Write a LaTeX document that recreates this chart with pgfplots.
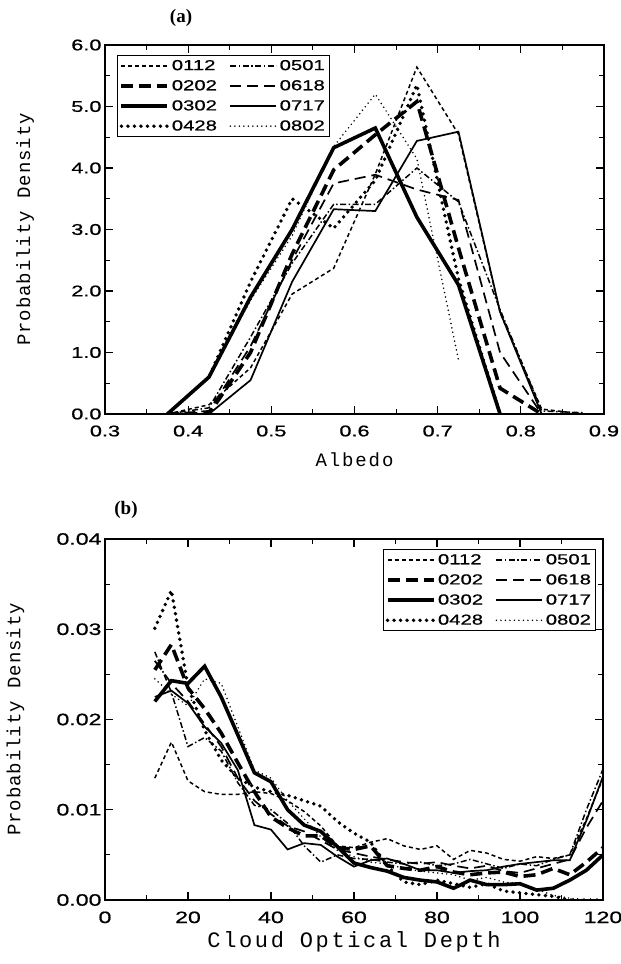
\documentclass[border=0pt]{standalone}
\usepackage{fontspec}
\setmainfont{Liberation Serif}
\newfontfamily\tickfont[FakeStretch=1.4,FakeBold=0.8]{Liberation Sans}
\newfontfamily\labfont{Liberation Mono}
\usepackage{pgfplots}
\usepackage{pgfplotstable}
\pgfplotsset{compat=1.18}

\pgfplotstableread{
x  a b c d e f g h
12  0.0135 0.0255 0.0220 0.0301 0.0275 0.0265 0.0225 0.0245
16  0.0175 0.0283 0.0243 0.0343 0.0230 0.0240 0.0232 0.0228
20  0.0132 0.0235 0.0240 0.0236 0.0170 0.0220 0.0218 0.0215
24  0.0120 0.0212 0.0259 0.0188 0.0180 0.0195 0.0192 0.0245
28  0.0117 0.0185 0.0225 0.0155 0.0165 0.0170 0.0174 0.0240
32  0.0117 0.0152 0.0183 0.0135 0.0130 0.0135 0.0144 0.0192
36  0.0120 0.0120 0.0141 0.0125 0.0105 0.0110 0.0083 0.0144
40  0.0118 0.0092 0.0131 0.0120 0.0100 0.0095 0.0078 0.0135
44  0.0110 0.0080 0.0100 0.0116 0.0085 0.0082 0.0056 0.0110
48  0.0098 0.0071 0.0083 0.0110 0.0060 0.0076 0.0063 0.0090
52  0.0082 0.0071 0.0076 0.0104 0.0042 0.0066 0.0061 0.0070
56  0.0060 0.0058 0.0059 0.0087 0.0050 0.0056 0.0048 0.0055
60  0.0058 0.0056 0.0041 0.0074 0.0046 0.0052 0.0037 0.0048
64  0.0064 0.0060 0.0036 0.0064 0.0045 0.0048 0.0044 0.0042
68  0.0068 0.0038 0.0032 0.0038 0.0042 0.0045 0.0046 0.0040
72  0.0060 0.0035 0.0025 0.0020 0.0040 0.0042 0.0040 0.0035
76  0.0056 0.0033 0.0022 0.0017 0.0042 0.0040 0.0033 0.0032
80  0.0060 0.0037 0.0020 0.0022 0.0038 0.0042 0.0033 0.0030
84  0.0045 0.0031 0.0013 0.0018 0.0040 0.0038 0.0030 0.0028
88  0.0055 0.0028 0.0022 0.0014 0.0045 0.0035 0.0032 0.0022
92  0.0052 0.0030 0.0017 0.0018 0.0040 0.0038 0.0033 0.0025
96  0.0045 0.0031 0.0017 0.0010 0.0035 0.0032 0.0037 0.0020
100 0.0043 0.0026 0.0018 0.0008 0.0040 0.0030 0.0040 0.0018
104 0.0048 0.0028 0.0011 0.0006 0.0038 0.0035 0.0042 0.0012
108 0.0046 0.0035 0.0013 0.0004 0.0045 0.0040 0.0044 0.0005
112 0.0050 0.0028 0.0022 0.0000 0.0050 0.0045 0.0044 0.0002
116 0.0090 0.0042 0.0033 0.0000 0.0100 0.0080 0.0088 0.0000
120 0.0135 0.0058 0.0050 0.0000 0.0145 0.0110 0.0137 0.0000
}\tabB

\pgfplotsset{
  paperaxis/.style={
    scale only axis,
    axis line style={line width=1.2bp},
    tick align=inside,
    major tick length=8bp, minor tick length=5bp,
    every tick/.style={black, line width=1.1bp},
    /pgf/number format/assume math mode=true,
    xticklabel style={yshift=-8bp},
    legend cell align=left,
    legend columns=4,
    transpose legend,
    legend image code/.code={\draw[##1] (0bp,0bp) -- (46bp,0bp);},
    legend style={draw=black, line width=1.1bp, font=\tickfont\fontsize{14.5bp}{14.5bp}\selectfont,
      inner sep=2bp, row sep=3.5bp, nodes={inner sep=2.5bp}},
    /tikz/every even column/.append style={column sep=10bp},
  },
  s0112/.style={black, line width=1.5bp, dash pattern=on 4bp off 3bp},
  s0202/.style={black, line width=3.6bp, dash pattern=on 12bp off 6bp},
  s0302/.style={black, line width=3.6bp},
  s0428/.style={black, line width=3.8bp, line cap=round, dash pattern=on 0bp off 6.5bp},
  s0501/.style={black, line width=1.5bp, dash pattern=on 6bp off 2.5bp on 1.5bp off 2.5bp},
  s0618/.style={black, line width=1.7bp, dash pattern=on 11bp off 6bp},
  s0717/.style={black, line width=1.7bp},
  s0802/.style={black, line width=1.7bp, line cap=round, dash pattern=on 0bp off 4.5bp},
}

\begin{document}
\begin{tikzpicture}
\useasboundingbox (0,0) rectangle (621bp,964bp);
\node[font=\bfseries\fontsize{19bp}{19bp}\selectfont] at (181bp,946bp) {(a)};
\node[font=\bfseries\fontsize{19bp}{19bp}\selectfont] at (126bp,454bp) {(b)};

\begin{axis}[paperaxis, at={(105bp,550bp)}, anchor=south west,
  width=499bp, height=369bp,
  xmin=0.3, xmax=0.9, ymin=0, ymax=6,
  xtick={0.3,0.4,...,0.9}, ytick={0,1,...,6},
  minor x tick num=1, minor y tick num=1,
  tick label style={font=\tickfont\fontsize{15.5bp}{15.5bp}\selectfont},
  xticklabel style={/pgf/number format/.cd, fixed, fixed zerofill, precision=1},
  yticklabel style={/pgf/number format/.cd, fixed, fixed zerofill, precision=1},
  xlabel={Albedo}, ylabel={Probability Density},
  xlabel style={font=\labfont\addfontfeature{LetterSpace=10}\fontsize{19bp}{19bp}\selectfont,
    at={(axis description cs:0.5,-0.125)}, anchor=center},
  ylabel style={font=\labfont\addfontfeature{LetterSpace=5}\fontsize{19bp}{19bp}\selectfont,
    at={(axis description cs:-0.16,0.5)}, anchor=center},
  legend style={at={(0.024,0.973)}, anchor=north west},
]
\addplot[s0112] coordinates {(0.375,0)(0.425,0.15)(0.475,0.75)(0.525,1.95)(0.575,2.37)(0.625,3.9)(0.675,5.64)(0.725,4.55)(0.775,1.65)(0.825,0.08)(0.875,0)};
\addlegendentry{0112}
\addplot[s0202] coordinates {(0.375,0)(0.425,0)(0.475,1.0)(0.525,2.6)(0.575,3.97)(0.625,4.54)(0.675,5.08)(0.725,2.7)(0.775,0.42)(0.825,0)};
\addlegendentry{0202}
\addplot[s0302] coordinates {(0.375,0)(0.425,0.6)(0.475,1.9)(0.525,3.0)(0.575,4.33)(0.625,4.65)(0.675,3.2)(0.725,2.1)(0.775,0)};
\addlegendentry{0302}
\addplot[s0428] coordinates {(0.375,0)(0.425,0.6)(0.475,2.15)(0.525,3.5)(0.575,3.02)(0.625,3.8)(0.675,5.35)(0.725,2.2)(0.775,0)};
\addlegendentry{0428}
\addplot[s0501] coordinates {(0.375,0)(0.425,0.1)(0.475,1.25)(0.525,2.45)(0.575,3.41)(0.625,3.41)(0.675,4.0)(0.725,3.45)(0.775,1.7)(0.825,0.05)(0.875,0.02)};
\addlegendentry{0501}
\addplot[s0618] coordinates {(0.375,0)(0.425,0.05)(0.475,1.1)(0.525,2.5)(0.575,3.75)(0.625,3.89)(0.675,3.65)(0.725,3.48)(0.775,1.0)(0.825,0)};
\addlegendentry{0618}
\addplot[s0717] coordinates {(0.425,0)(0.475,0.55)(0.525,2.15)(0.575,3.33)(0.625,3.3)(0.675,4.44)(0.725,4.59)(0.775,1.66)(0.825,0)};
\addlegendentry{0717}
\addplot[s0802] coordinates {(0.375,0)(0.425,0.6)(0.475,1.85)(0.525,2.9)(0.575,4.35)(0.625,5.2)(0.675,4.15)(0.725,0.88)};
\addlegendentry{0802}
\end{axis}

\begin{axis}[paperaxis, at={(105bp,64bp)}, anchor=south west,
  width=498bp, height=361bp,
  xmin=0, xmax=120, ymin=0, ymax=0.04,
  xtick={0,20,...,120}, ytick={0,0.01,0.02,0.03,0.04},
  minor x tick num=1, minor y tick num=1,
  scaled y ticks=false,
  tick label style={font=\tickfont\fontsize{16.5bp}{16.5bp}\selectfont},
  yticklabel style={/pgf/number format/.cd, fixed, fixed zerofill, precision=2},
  xlabel={Cloud Optical Depth}, ylabel={Probability Density},
  xlabel style={font=\labfont\addfontfeature{LetterSpace=12}\fontsize{22bp}{22bp}\selectfont,
    at={(axis description cs:0.5,-0.116)}, anchor=center},
  ylabel style={font=\labfont\addfontfeature{LetterSpace=5}\fontsize{19bp}{19bp}\selectfont,
    at={(axis description cs:-0.18,0.5)}, anchor=center},
  legend style={at={(0.986,0.972)}, anchor=north east},
]
\addplot[s0112] table[x=x,y=a] {\tabB}; \addlegendentry{0112}
\addplot[s0202] table[x=x,y=b] {\tabB}; \addlegendentry{0202}
\addplot[s0302] table[x=x,y=c] {\tabB}; \addlegendentry{0302}
\addplot[s0428] table[x=x,y=d] {\tabB}; \addlegendentry{0428}
\addplot[s0501] table[x=x,y=e] {\tabB}; \addlegendentry{0501}
\addplot[s0618] table[x=x,y=f] {\tabB}; \addlegendentry{0618}
\addplot[s0717] table[x=x,y=g] {\tabB}; \addlegendentry{0717}
\addplot[s0802] table[x=x,y=h] {\tabB}; \addlegendentry{0802}
\end{axis}
\end{tikzpicture}
\end{document}
